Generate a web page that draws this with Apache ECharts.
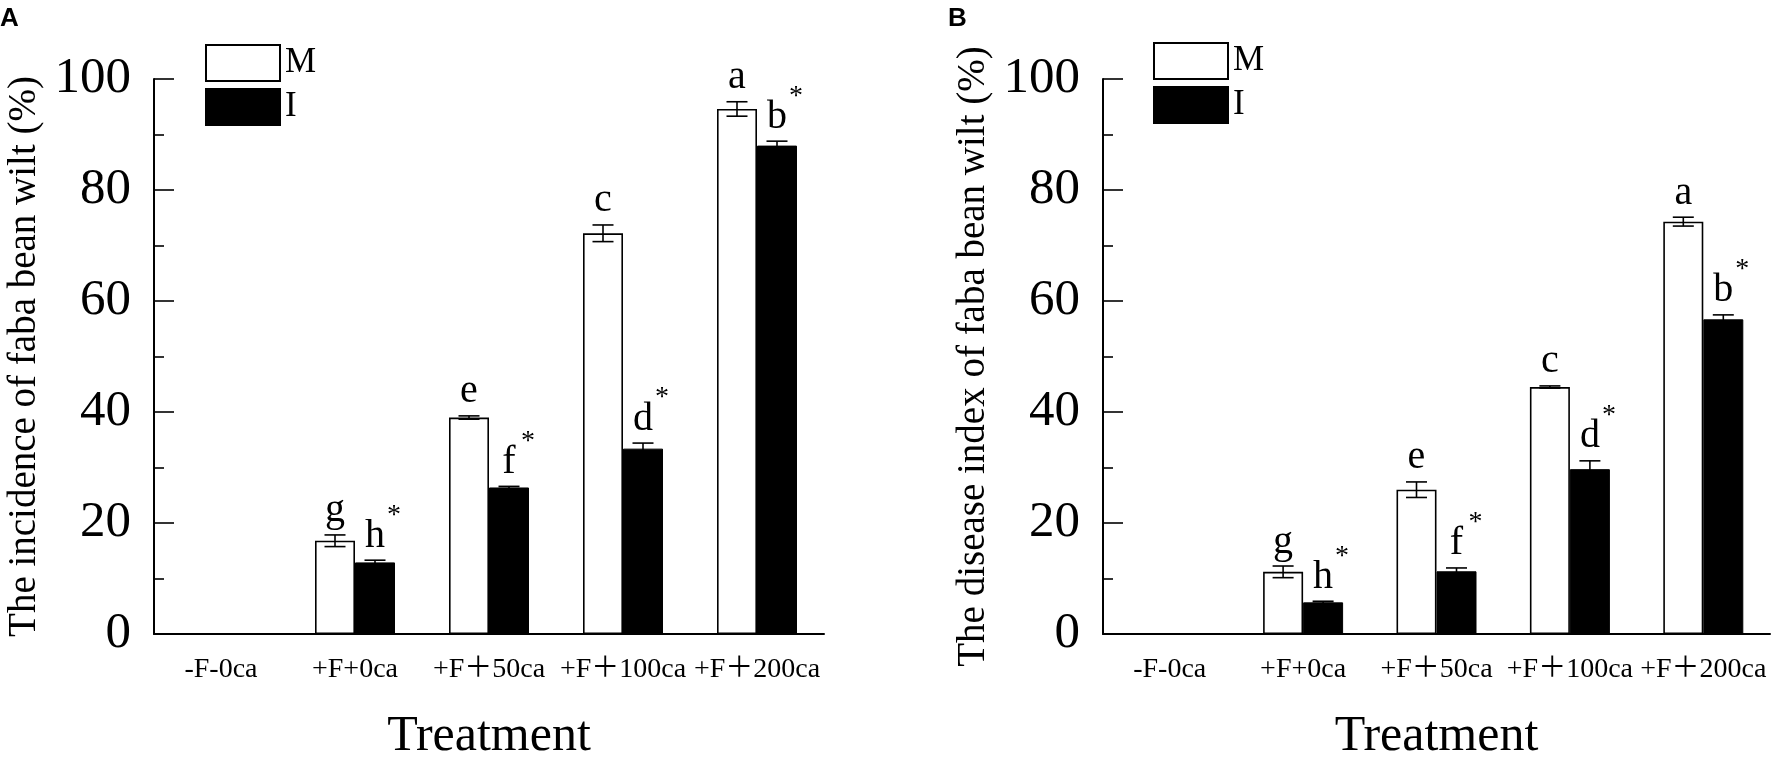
<!DOCTYPE html>
<html>
<head>
<meta charset="utf-8">
<script src="https://cdn.jsdelivr.net/npm/echarts@6/dist/echarts.min.js"></script>
<style>
html,body{margin:0;padding:0;background:#fff;}
#chart{width:1772px;height:771px;}
</style>
</head>
<body>
<div id="chart"></div>
<script>
// ---------- data ----------
const categories = ['-F-0ca', '+F+0ca', '+F\uFF0B50ca', '+F\uFF0B100ca', '+F\uFF0B200ca'];
const seriesNames = ['M', 'I'];

// Panel A: incidence of faba bean wilt (%)
const incidenceM = [0, 16.8, 39.0, 72.2, 94.6];
const incidenceMErr = [0, 1.05, 0.3, 1.5, 1.3];
const incidenceI = [0, 12.9, 26.4, 33.4, 88.0];
const incidenceIErr = [0, 0.4, 0.2, 1.0, 0.8];
const incidenceMLetters = ['', 'g', 'e', 'c', 'a'];
const incidenceILetters = ['', 'h', 'f', 'd', 'b'];

// Panel B: disease index of faba bean wilt (%)
const diseaseM = [0, 11.2, 26.0, 44.5, 74.3];
const diseaseMErr = [0, 1.05, 1.4, 0.2, 0.8];
const diseaseI = [0, 5.7, 11.3, 29.7, 56.7];
const diseaseIErr = [0, 0.2, 0.6, 1.5, 0.8];
const diseaseMLetters = ['', 'g', 'e', 'c', 'a'];
const diseaseILetters = ['', 'h', 'f', 'd', 'b'];

const starM = [false, false, false, false, false];
const starI = [false, true, true, true, true];

const panelTitles = ['A', 'B'];
const yAxisNames = ['The incidence of faba bean wilt (%)', 'The disease index of faba bean wilt (%)'];
const xAxisName = 'Treatment';

// ---------- style ----------
const SERIF = "'Liberation Serif','Times New Roman','Noto Sans CJK SC',serif";
const BAR_W = 40;

function makeErrorRenderer(side, errs, letters, stars) {
  return function (params, api) {
    const idx = params.dataIndex;
    const cat = api.value(0);
    const v = api.value(1);
    if (!v) return null;
    const e = errs[idx];
    const x = api.coord([cat, v])[0] + side * BAR_W / 2;
    const yTop = api.coord([cat, v + e])[1];
    const yBot = api.coord([cat, v - e])[1];
    const hw = 10.5;
    const ls = { stroke: '#000', lineWidth: 1.6 };
    const children = [
      { type: 'line', shape: { x1: x, y1: yTop, x2: x, y2: yBot }, style: ls },
      { type: 'line', shape: { x1: x - hw, y1: yTop, x2: x + hw, y2: yTop }, style: ls },
      { type: 'line', shape: { x1: x - hw, y1: yBot, x2: x + hw, y2: yBot }, style: ls },
      { type: 'text', x: x, y: yTop - 4,
        style: { text: letters[idx], fontSize: 40, fontFamily: SERIF, fill: '#000', align: 'center', verticalAlign: 'bottom' } }
    ];
    if (stars[idx]) {
      children.push({ type: 'text', x: x + 19, y: yTop - 31,
        style: { text: '*', fontSize: 28, fontFamily: SERIF, fill: '#000', align: 'center', verticalAlign: 'bottom' } });
    }
    return { type: 'group', children: children };
  };
}

const grids = [
  { left: 154, top: 79, width: 670, height: 555 },
  { left: 1103, top: 79, width: 667, height: 555 }
];

const panels = [
  { m: incidenceM, mErr: incidenceMErr, i: incidenceI, iErr: incidenceIErr, mL: incidenceMLetters, iL: incidenceILetters },
  { m: diseaseM, mErr: diseaseMErr, i: diseaseI, iErr: diseaseIErr, mL: diseaseMLetters, iL: diseaseILetters }
];

const axisLineStyle = { color: '#000', width: 2 };

const xAxes = panels.map((p, k) => ({
  type: 'category', gridIndex: k, data: categories,
  boundaryGap: true,
  axisLine: { lineStyle: axisLineStyle },
  axisTick: { inside: true, length: 10, lineStyle: { color: '#000', width: 1.6 } },
  axisLabel: { interval: 0, margin: 22, color: '#000', fontSize: 28, fontFamily: SERIF, hideOverlap: false },
  name: xAxisName, nameLocation: 'middle', nameGap: 78,
  nameTextStyle: { color: '#000', fontSize: 50, fontFamily: SERIF },
  splitLine: { show: false }
}));

const yAxes = panels.map((p, k) => ({
  type: 'value', gridIndex: k, min: 0, max: 100, interval: 20,
  axisLine: { show: true, lineStyle: axisLineStyle },
  axisTick: { show: true, inside: true, length: 20, lineStyle: { color: '#000', width: 1.6 } },
  minorTick: { show: true, splitNumber: 2, length: 10, lineStyle: { color: '#000', width: 1.6 } },
  axisLabel: { margin: 23, color: '#000', fontSize: 51, fontFamily: SERIF },
  splitLine: { show: false },
  name: yAxisNames[k], nameLocation: 'middle', nameGap: 110,
  nameTextStyle: { color: '#000', fontSize: 39, fontFamily: SERIF }
}));

const series = [];
panels.forEach((p, k) => {
  series.push({
    name: seriesNames[0], type: 'bar', xAxisIndex: k, yAxisIndex: k,
    data: p.m, barWidth: BAR_W, barGap: '0%',
    itemStyle: { color: '#fff', borderColor: '#000', borderWidth: 1.6 },
    emphasis: { disabled: true }
  });
  series.push({
    name: seriesNames[1], type: 'bar', xAxisIndex: k, yAxisIndex: k,
    data: p.i, barWidth: BAR_W, barGap: '0%',
    itemStyle: { color: '#000', borderColor: '#000', borderWidth: 1 },
    emphasis: { disabled: true }
  });
  series.push({
    name: 'errM' + k, type: 'custom', xAxisIndex: k, yAxisIndex: k, z: 5,
    data: p.m.map((v, i) => [i, v]),
    renderItem: makeErrorRenderer(-1, p.mErr, p.mL, starM)
  });
  series.push({
    name: 'errI' + k, type: 'custom', xAxisIndex: k, yAxisIndex: k, z: 5,
    data: p.i.map((v, i) => [i, v]),
    renderItem: makeErrorRenderer(1, p.iErr, p.iL, starI)
  });
});

const legendCommon = {
  orient: 'vertical', data: seriesNames, icon: 'rect',
  itemWidth: 74, itemHeight: 36, itemGap: 6, padding: 0,
  selectedMode: false,
  textStyle: { color: '#000', fontSize: 35, fontFamily: SERIF, lineHeight: 36 }
};

const option = {
  animation: false,
  backgroundColor: '#fff',
  title: panelTitles.map((t, k) => ({
    text: t, left: k === 0 ? 0 : 948, top: 6, padding: 0,
    textStyle: { fontFamily: "'Liberation Sans',Arial,sans-serif", fontWeight: 'bold', fontSize: 26, color: '#000' }
  })),
  legend: [
    Object.assign({ left: 205, top: 44 }, legendCommon),
    Object.assign({ left: 1153, top: 42 }, legendCommon)
  ],
  grid: grids,
  xAxis: xAxes,
  yAxis: yAxes,
  series: series
};

const chart = echarts.init(document.getElementById('chart'), null, { renderer: 'canvas' });
chart.setOption(option);
</script>
</body>
</html>
